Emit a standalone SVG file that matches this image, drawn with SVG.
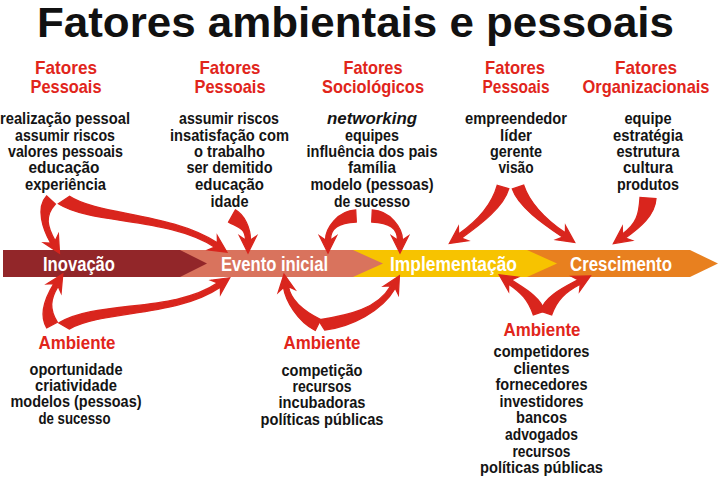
<svg xmlns="http://www.w3.org/2000/svg" width="720" height="479" viewBox="0 0 720 479">
<style>
text{font-family:"Liberation Sans Narrow","Liberation Sans",Arial,sans-serif;font-weight:bold;text-anchor:middle}
.title{font-size:42px;fill:#111}
.hd{font-size:19px;fill:#E1251B}
.amb{font-size:18px;fill:#E1251B}
.tx{font-size:16px;fill:#141414}
.bt{font-size:20px;fill:#fff}
.arr{fill:#D9251D;stroke:#D9251D;stroke-width:1.3;stroke-linejoin:miter;stroke-miterlimit:10}
</style>
<rect width="720" height="479" fill="#fff"/>
<g id="title"><text class="title" x="355.5" y="37" textLength="637" lengthAdjust="spacingAndGlyphs">Fatores ambientais e pessoais</text></g>

<g id="fp1">
<text class="hd" x="66" y="74" textLength="62" lengthAdjust="spacingAndGlyphs">Fatores</text>
<text class="hd" x="66" y="93" textLength="71" lengthAdjust="spacingAndGlyphs">Pessoais</text>
<text class="tx" x="65" y="124" textLength="130" lengthAdjust="spacingAndGlyphs">realização pessoal</text>
<text class="tx" x="65" y="140.7" textLength="100" lengthAdjust="spacingAndGlyphs">assumir riscos</text>
<text class="tx" x="65.5" y="157" textLength="115" lengthAdjust="spacingAndGlyphs">valores pessoais</text>
<text class="tx" x="64" y="173.3" textLength="71" lengthAdjust="spacingAndGlyphs">educação</text>
<text class="tx" x="65.5" y="189.5" textLength="81" lengthAdjust="spacingAndGlyphs">experiência</text>
</g>

<g id="fp2">
<text class="hd" x="230" y="74" textLength="61" lengthAdjust="spacingAndGlyphs">Fatores</text>
<text class="hd" x="230" y="93" textLength="71" lengthAdjust="spacingAndGlyphs">Pessoais</text>
<text class="tx" x="229" y="124" textLength="100" lengthAdjust="spacingAndGlyphs">assumir riscos</text>
<text class="tx" x="229.5" y="140.7" textLength="119" lengthAdjust="spacingAndGlyphs">insatisfação com</text>
<text class="tx" x="229.5" y="157" textLength="71" lengthAdjust="spacingAndGlyphs">o trabalho</text>
<text class="tx" x="229.5" y="173.3" textLength="86" lengthAdjust="spacingAndGlyphs">ser demitido</text>
<text class="tx" x="229.5" y="190" textLength="69" lengthAdjust="spacingAndGlyphs">educação</text>
<text class="tx" x="229.5" y="206.7" textLength="38" lengthAdjust="spacingAndGlyphs">idade</text>
</g>

<g id="fs">
<text class="hd" x="373" y="74" textLength="59" lengthAdjust="spacingAndGlyphs">Fatores</text>
<text class="hd" x="373" y="93" textLength="102" lengthAdjust="spacingAndGlyphs">Sociológicos</text>
<text class="tx" x="372" y="124" font-style="italic" textLength="90" lengthAdjust="spacingAndGlyphs">networking</text>
<text class="tx" x="372" y="140.7" textLength="54" lengthAdjust="spacingAndGlyphs">equipes</text>
<text class="tx" x="372" y="157" textLength="131" lengthAdjust="spacingAndGlyphs">influência dos pais</text>
<text class="tx" x="372" y="173.3" textLength="48" lengthAdjust="spacingAndGlyphs">família</text>
<text class="tx" x="372" y="190" textLength="123" lengthAdjust="spacingAndGlyphs">modelo (pessoas)</text>
<text class="tx" x="372" y="206.7" textLength="76" lengthAdjust="spacingAndGlyphs">de sucesso</text>
</g>

<g id="fp3">
<text class="hd" x="515" y="74" textLength="60" lengthAdjust="spacingAndGlyphs">Fatores</text>
<text class="hd" x="516" y="93" textLength="67" lengthAdjust="spacingAndGlyphs">Pessoais</text>
<text class="tx" x="516" y="124" textLength="102" lengthAdjust="spacingAndGlyphs">empreendedor</text>
<text class="tx" x="516" y="140.7" textLength="32" lengthAdjust="spacingAndGlyphs">líder</text>
<text class="tx" x="516" y="157" textLength="52" lengthAdjust="spacingAndGlyphs">gerente</text>
<text class="tx" x="516" y="173.3" textLength="35" lengthAdjust="spacingAndGlyphs">visão</text>
</g>

<g id="fo">
<text class="hd" x="646" y="74" textLength="62" lengthAdjust="spacingAndGlyphs">Fatores</text>
<text class="hd" x="646" y="93" font-size="18" textLength="127" lengthAdjust="spacingAndGlyphs">Organizacionais</text>
<text class="tx" x="648" y="124" textLength="47" lengthAdjust="spacingAndGlyphs">equipe</text>
<text class="tx" x="648" y="140.7" textLength="70" lengthAdjust="spacingAndGlyphs">estratégia</text>
<text class="tx" x="648" y="157" textLength="63" lengthAdjust="spacingAndGlyphs">estrutura</text>
<text class="tx" x="648" y="173.3" textLength="50" lengthAdjust="spacingAndGlyphs">cultura</text>
<text class="tx" x="648" y="190" textLength="62" lengthAdjust="spacingAndGlyphs">produtos</text>
</g>

<g id="crescimento">
<polygon points="527,250 690,250 718,263.5 690,277 527,277" fill="#E8801F"/>
<text class="bt" x="621" y="270.5" textLength="102" lengthAdjust="spacingAndGlyphs">Crescimento</text>
</g>
<g id="implementacao">
<polygon points="353,250 527,250 557,263.5 527,277 353,277" fill="#F7C300"/>
<text class="bt" x="453.5" y="270.5" textLength="127" lengthAdjust="spacingAndGlyphs">Implementação</text>
</g>
<g id="evento">
<polygon points="180,250 353,250 383,263.5 353,277 180,277" fill="#D9735D"/>
<text class="bt" x="274.5" y="270.5" textLength="107" lengthAdjust="spacingAndGlyphs">Evento inicial</text>
</g>
<g id="inovacao">
<polygon points="3,250 180,250 207,263.5 180,277 3,277" fill="#922629"/>
<text class="bt" x="79" y="270.5" textLength="72" lengthAdjust="spacingAndGlyphs">Inovação</text>
</g>

<g id="amb1">
<text class="amb" x="77" y="348.5" textLength="77" lengthAdjust="spacingAndGlyphs">Ambiente</text>
<text class="tx" x="76" y="374.5" textLength="93" lengthAdjust="spacingAndGlyphs">oportunidade</text>
<text class="tx" x="76" y="391" textLength="82" lengthAdjust="spacingAndGlyphs">criatividade</text>
<text class="tx" x="76" y="407.3" textLength="131" lengthAdjust="spacingAndGlyphs">modelos (pessoas)</text>
<text class="tx" x="74.5" y="423.5" textLength="72" lengthAdjust="spacingAndGlyphs">de sucesso</text>
</g>

<g id="amb2">
<text class="amb" x="322" y="348.5" textLength="77" lengthAdjust="spacingAndGlyphs">Ambiente</text>
<text class="tx" x="322" y="376" textLength="81" lengthAdjust="spacingAndGlyphs">competição</text>
<text class="tx" x="322" y="392" textLength="59" lengthAdjust="spacingAndGlyphs">recursos</text>
<text class="tx" x="322" y="408.3" textLength="87" lengthAdjust="spacingAndGlyphs">incubadoras</text>
<text class="tx" x="322" y="424.5" textLength="123" lengthAdjust="spacingAndGlyphs">políticas públicas</text>
</g>

<g id="amb3">
<text class="amb" x="542" y="336" textLength="77" lengthAdjust="spacingAndGlyphs">Ambiente</text>
<text class="tx" x="541.5" y="357" textLength="96" lengthAdjust="spacingAndGlyphs">competidores</text>
<text class="tx" x="541.5" y="373.5" textLength="56" lengthAdjust="spacingAndGlyphs">clientes</text>
<text class="tx" x="541.5" y="390" textLength="92" lengthAdjust="spacingAndGlyphs">fornecedores</text>
<text class="tx" x="541.5" y="406.7" textLength="84" lengthAdjust="spacingAndGlyphs">investidores</text>
<text class="tx" x="541.5" y="423.3" textLength="51" lengthAdjust="spacingAndGlyphs">bancos</text>
<text class="tx" x="541.5" y="440" textLength="73" lengthAdjust="spacingAndGlyphs">advogados</text>
<text class="tx" x="541.5" y="456.7" textLength="58" lengthAdjust="spacingAndGlyphs">recursos</text>
<text class="tx" x="541.5" y="473.3" textLength="123" lengthAdjust="spacingAndGlyphs">políticas públicas</text>
</g>

<g id="connectors" class="arr">
<path d="M46.6,196 C35.6,208 42.8,229.2 50.8,243.2 L43.6,242.8 L59.5,253.3 L58.4,234.3 L55.2,240.8 C47.2,226.8 44.4,216 55.4,204 Z"/>
<path d="M58.4,203.8 C91.4,224.8 168.6,217.1 214.6,247.1 L208,249.9 L226.9,252.1 L217.3,235.7 L217.4,242.9 C171.4,212.9 98.6,215.2 69.6,196.2 Z"/>
<path d="M228.6,222.1 C237.6,227.1 245.5,228 245.5,240 L239.5,236 L248,253 L256.5,236 L250.5,240 C250.5,228 244.4,214.9 235.4,209.9 Z"/>
<path d="M355.7,210 C337.7,211 325.5,228 325.5,240 L319.5,236 L328,253 L336.5,236 L330.5,240 C330.5,228 338.3,223 356.3,222 Z"/>
<path d="M371.7,222 C389.7,223 397.5,228 397.5,240 L391.5,236 L400,253 L408.5,236 L402.5,240 C402.5,228 390.3,211 372.3,210 Z"/>
<path d="M497.2,185.4 C492.2,203.4 478.6,220 458.6,234 L458.4,226.8 L449.4,243.5 L468.2,240.7 L461.4,238.1 C481.4,224.1 503.8,206.6 508.8,188.6 Z"/>
<path d="M512.3,188.9 C518.3,206.9 543.6,224.1 562.6,237.1 L555.9,239.8 L574.7,242.4 L565.5,225.7 L565.4,232.9 C546.4,219.9 529.7,203.1 523.7,185.1 Z"/>
<path d="M640,197.5 C639,214.5 636.5,224 622.5,234 L622.3,226.8 L613.4,243.6 L632.2,240.6 L625.5,238 C639.5,228 655,215.5 656,198.5 Z"/>
<path d="M57.3,322.2 C49.3,309.2 50.1,299.3 58.1,286.3 L61.1,292.9 L62.8,273.9 L46.7,284 L53.9,283.7 C45.9,296.7 38.7,314.8 46.7,327.8 Z"/>
<path d="M69.2,329.1 C103.2,310.1 176.4,317.1 220.4,287.1 L220.5,294.3 L229.7,277.7 L210.9,280.2 L217.6,282.9 C173.6,312.9 96.9,299.9 58.9,322.9 Z"/>
<path d="M320.7,319.6 C302.7,310.6 290.5,299.6 288.5,286.6 L295,289.7 L284,274.1 L278.2,292.3 L283.5,287.4 C285.5,300.4 297.3,321.4 315.3,330.4 Z"/>
<path d="M324.7,330 C350.7,327 382.2,311.2 395.2,288.2 L398.4,294.7 L399.4,275.7 L383.6,286.3 L390.8,285.8 C377.8,308.8 349.3,315 318.3,320 Z"/>
<path d="M544.7,311.1 C539.7,296.1 523.4,287.9 511.4,279.9 L518,277.2 L499.2,274.8 L508.6,291.3 L508.6,284.1 C520.6,292.1 528.3,299.9 533.3,314.9 Z"/>
<path d="M551.7,314.9 C556.7,299.9 565.2,292.2 580.2,284.2 L579.5,291.4 L590.5,275.9 L571.5,276.4 L577.8,279.8 C562.8,287.8 545.3,296.1 540.3,311.1 Z"/>
</g>
</svg>
